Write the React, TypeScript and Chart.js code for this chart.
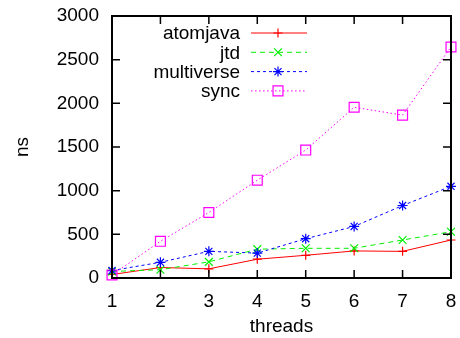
import React, { useEffect, useRef } from "react";
import { Chart, registerables } from "chart.js";

Chart.register(...registerables);

const threads = [1, 2, 3, 4, 5, 6, 7, 8];
const atomjava = [40, 120, 105, 215, 260, 310, 305, 435];
const jtd = [75, 95, 185, 330, 340, 340, 435, 530];
const multiverse = [85, 180, 305, 285, 450, 590, 830, 1050];
const sync = [35, 420, 750, 1120, 1465, 1955, 1865, 2645];
const yTicks = [0, 500, 1000, 1500, 2000, 2500, 3000];

const FONT = "Liberation Sans, Arial, Helvetica, sans-serif";
const FS = 19;

function drawMarker(ctx: CanvasRenderingContext2D, style: string, x: number, y: number, r: number) {
  ctx.beginPath();
  if (style === "cross" || style === "star") {
    ctx.moveTo(x - r, y); ctx.lineTo(x + r, y);
    ctx.moveTo(x, y - r); ctx.lineTo(x, y + r);
  }
  if (style === "crossRot" || style === "star") {
    const o = Math.SQRT1_2 * r;
    ctx.moveTo(x - o, y - o); ctx.lineTo(x + o, y + o);
    ctx.moveTo(x - o, y + o); ctx.lineTo(x + o, y - o);
  }
  if (style === "rect") {
    const s = Math.SQRT1_2 * r;
    ctx.rect(x - s, y - s, 2 * s, 2 * s);
  }
  ctx.stroke();
}

const framePlugin = {
  id: "frame",
  afterDraw(chart: any) {
    const { ctx, chartArea: a, scales } = chart;
    ctx.save();
    ctx.strokeStyle = "#000";
    ctx.lineWidth = 2;
    ctx.strokeRect(a.left, a.top, a.right - a.left, a.bottom - a.top);
    ctx.lineWidth = 1.5;
    const tl = 8;
    ctx.beginPath();
    threads.forEach((t) => {
      const x = scales.x.getPixelForValue(t);
      ctx.moveTo(x, a.bottom); ctx.lineTo(x, a.bottom - tl);
      ctx.moveTo(x, a.top); ctx.lineTo(x, a.top + tl);
    });
    yTicks.forEach((v) => {
      const y = scales.y.getPixelForValue(v);
      ctx.moveTo(a.left, y); ctx.lineTo(a.left + tl, y);
      ctx.moveTo(a.right, y); ctx.lineTo(a.right - tl, y);
    });
    ctx.stroke();

    // legend
    const textRight = 240;
    const lineL = 251;
    const lineR = 307;
    const mx = 278;
    const y0 = 33;
    const dy = 19.3;
    ctx.font = `${FS}px ${FONT}`;
    ctx.textAlign = "right";
    ctx.textBaseline = "middle";
    chart.data.datasets.forEach((ds: any, i: number) => {
      const y = y0 + i * dy;
      ctx.fillStyle = "#000";
      ctx.fillText(ds.label, textRight, y + 1);
      ctx.strokeStyle = ds.borderColor;
      ctx.lineWidth = ds.borderWidth;
      ctx.setLineDash(ds.borderDash || []);
      ctx.beginPath();
      ctx.moveTo(lineL, y); ctx.lineTo(lineR, y);
      ctx.stroke();
      ctx.setLineDash([]);
      ctx.strokeStyle = ds.pointBorderColor;
      ctx.lineWidth = ds.pointBorderWidth;
      drawMarker(ctx, ds.pointStyle, mx, y, ds.pointRadius);
    });
    ctx.restore();
  },
};

function mk(label: string, values: number[], color: string, dash: number[], style: string, r: number, order: number) {
  return {
    label,
    data: threads.map((t, i) => ({ x: t, y: values[i] })),
    borderColor: color,
    backgroundColor: "transparent",
    borderWidth: 1,
    borderDash: dash,
    pointStyle: style,
    pointRadius: r,
    pointBorderColor: color,
    pointBackgroundColor: "transparent",
    pointBorderWidth: 1.2,
    tension: 0,
    clip: false as any,
    order,
  };
}

export default function App() {
  const ref = useRef<HTMLCanvasElement>(null);
  useEffect(() => {
    document.body.style.margin = "0";
    const chart = new Chart(ref.current!, {
      type: "line",
      data: {
        datasets: [
          mk("atomjava", atomjava, "#ff0000", [], "cross", 4.5, 3),
          mk("jtd", jtd, "#00f000", [5, 4], "crossRot", 5.5, 2),
          mk("multiverse", multiverse, "#0000ff", [3, 3], "star", 5, 1),
          mk("sync", sync, "#ff00ff", [1.5, 2.5], "rect", 7, 0),
        ],
      },
      options: {
        animation: false,
        responsive: false,
        maintainAspectRatio: false,
        layout: { padding: { left: 0, top: 16, right: 9, bottom: 0 } },
        plugins: { legend: { display: false }, tooltip: { enabled: false } },
        scales: {
          x: {
            type: "linear",
            min: 1,
            max: 8,
            afterFit: (s: any) => { s.height = 338 - 278; s.paddingLeft = 0; s.paddingRight = 0; },
            ticks: { stepSize: 1, color: "#000", padding: 12, font: { family: FONT, size: FS } },
            grid: { display: false, drawTicks: false },
            border: { display: false },
            title: { display: true, text: "threads", color: "#000", font: { family: FONT, size: FS }, padding: { top: 0, bottom: 0 } },
          },
          y: {
            type: "linear",
            min: 0,
            max: 3000,
            afterFit: (s: any) => { s.width = 112; s.paddingTop = 0; s.paddingBottom = 0; },
            ticks: { stepSize: 500, color: "#000", padding: 13, font: { family: FONT, size: FS }, callback: (v: any) => String(v) },
            grid: { display: false, drawTicks: false },
            border: { display: false },
            title: { display: true, text: "ns", color: "#000", font: { family: FONT, size: FS }, padding: { top: 11, bottom: 0 } },
          },
        },
      },
      plugins: [framePlugin],
    });
    return () => chart.destroy();
  }, []);
  return <canvas ref={ref} width={460} height={338} style={{ display: "block" }} />;
}
